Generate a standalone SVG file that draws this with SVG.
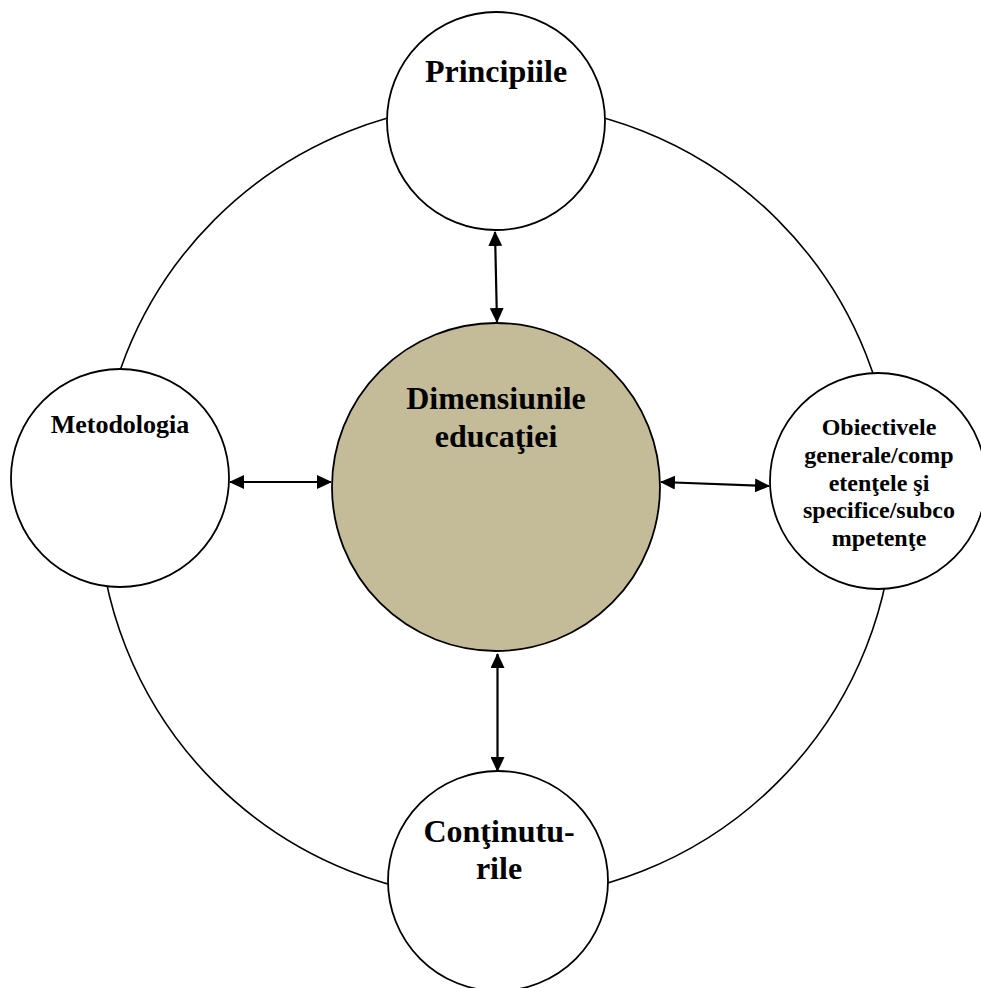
<svg xmlns="http://www.w3.org/2000/svg" width="981" height="988" viewBox="0 0 981 988">
  <style>
    .ring { fill: none; stroke: #000; stroke-width: 1.6; }
    .node { fill: #fff; stroke: #000; stroke-width: 1.8; }
    .core { fill: #c4bc99; stroke: #000; stroke-width: 1.8; }
    .lbl { font-family: "Liberation Serif", "Times New Roman", serif; font-weight: bold; fill: #000; text-anchor: middle; }
    .link { stroke: #000; stroke-width: 2.2; fill: none; marker-start: url(#head); marker-end: url(#head); }
  </style>
  <defs>
    <marker id="head" viewBox="0 0 15 14" refX="14" refY="7" markerWidth="15" markerHeight="14" markerUnits="userSpaceOnUse" orient="auto-start-reverse">
      <path d="M0,0 L15,7 L0,14 z" fill="#000"/>
    </marker>
  </defs>
  <rect width="981" height="988" fill="#fff"/>

  <!-- outer ring linking the four surrounding dimensions -->
  <circle class="ring" cx="496" cy="501" r="398"/>

  <!-- connectors -->
  <g id="connectors">
    <line class="link" x1="495" y1="232" x2="497" y2="322"/>
    <line class="link" x1="230" y1="482" x2="331" y2="482"/>
    <line class="link" x1="661" y1="482" x2="769" y2="486"/>
    <line class="link" x1="497.5" y1="654" x2="497.5" y2="771"/>
  </g>

  <g id="principiile">
    <circle class="node" cx="496" cy="121" r="109"/>
    <text class="lbl" x="496" y="82" font-size="32">Principiile</text>
  </g>

  <g id="metodologia">
    <circle class="node" cx="120" cy="478" r="109"/>
    <text class="lbl" x="120" y="433" font-size="26">Metodologia</text>
  </g>

  <g id="dimensiunile">
    <circle class="core" cx="496" cy="487" r="164"/>
    <text class="lbl" x="496" y="409" font-size="32">Dimensiunile</text>
    <text class="lbl" x="496" y="447" font-size="32">educaţiei</text>
  </g>

  <g id="obiectivele">
    <circle class="node" cx="878" cy="481" r="108"/>
    <text class="lbl" x="879" y="435" font-size="24">Obiectivele</text>
    <text class="lbl" x="879" y="463" font-size="24">generale/comp</text>
    <text class="lbl" x="879" y="491" font-size="24">etenţele şi</text>
    <text class="lbl" x="879" y="518" font-size="24">specifice/subco</text>
    <text class="lbl" x="879" y="546" font-size="24">mpetenţe</text>
  </g>

  <g id="continuturile">
    <circle class="node" cx="498" cy="881" r="110"/>
    <text class="lbl" x="499" y="842" font-size="32">Conţinutu-</text>
    <text class="lbl" x="499" y="879" font-size="32">rile</text>
  </g>
</svg>
